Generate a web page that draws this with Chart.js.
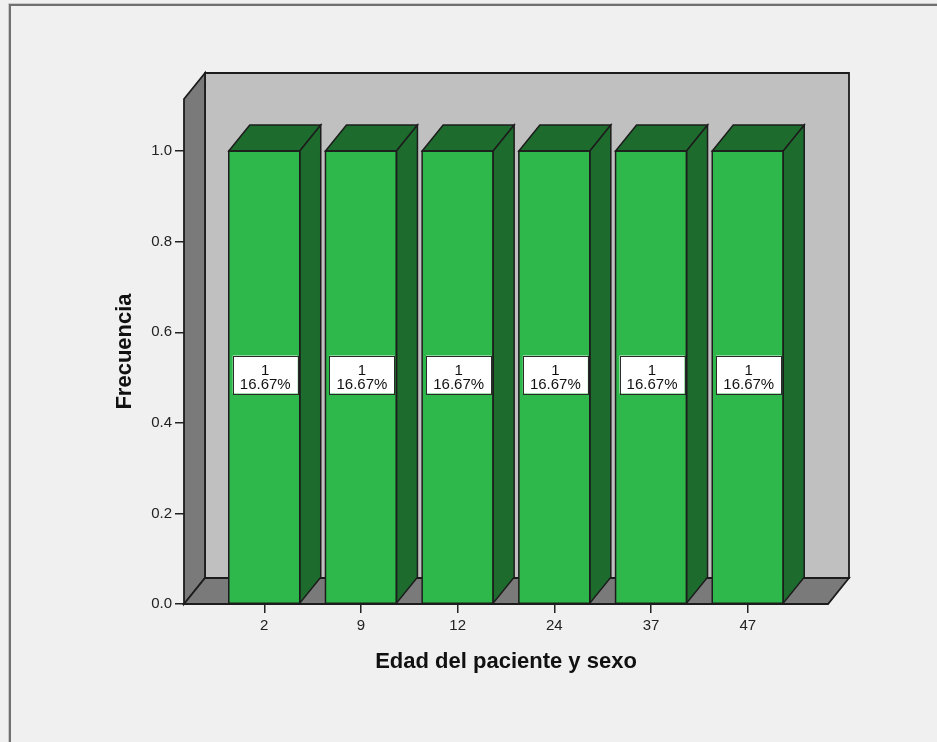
<!DOCTYPE html>
<html>
<head>
<meta charset="utf-8">
<script src="https://cdn.jsdelivr.net/npm/chart.js@4.4.0/dist/chart.umd.min.js"></script>
<style>
  html, body { margin: 0; padding: 0; background: #f0f0f0; }
  canvas { display: block; }
</style>
</head>
<body>
<canvas id="chart" width="937" height="742"></canvas>
<script>
// Frequency of each patient age
const categories = ['2', '9', '12', '24', '37', '47'];
const counts = [1, 1, 1, 1, 1, 1];
const yTickValues = [0, 0.2, 0.4, 0.6, 0.8, 1.0];
const xTitle = 'Edad del paciente y sexo';
const yTitle = 'Frecuencia';

const total = counts.reduce((a, b) => a + b, 0);

// 3D look: depth offset of back faces
const DEPTH_X = 21;
const DEPTH_Y = -26;
const FRONT = '#2eb84b';
const SHADE = '#1e6b2e';
const BACK_WALL = '#c0c0c0';
const SIDE_WALL = '#7a7a7a';
const EDGE = '#1c1c1c';

Chart.defaults.font.family = '"Liberation Sans", Arial, sans-serif';

function poly(ctx, pts, fill, stroke, lw) {
  ctx.beginPath();
  ctx.moveTo(pts[0][0], pts[0][1]);
  for (let i = 1; i < pts.length; i++) ctx.lineTo(pts[i][0], pts[i][1]);
  ctx.closePath();
  if (fill) { ctx.fillStyle = fill; ctx.fill(); }
  if (stroke) { ctx.strokeStyle = stroke; ctx.lineWidth = lw; ctx.lineJoin = 'miter'; ctx.stroke(); }
}

const box3d = {
  id: 'box3d',
  beforeDraw(chart) {
    const ctx = chart.ctx;
    ctx.save();
    ctx.fillStyle = '#f0f0f0';
    ctx.fillRect(0, 0, chart.width, chart.height);
    // window frame
    ctx.strokeStyle = '#c8c8c8';
    ctx.lineWidth = 1;
    ctx.beginPath();
    ctx.moveTo(8.5, 742); ctx.lineTo(8.5, 3.5); ctx.lineTo(937, 3.5);
    ctx.stroke();
    ctx.strokeStyle = '#707070';
    ctx.lineWidth = 2;
    ctx.beginPath();
    ctx.moveTo(10, 742); ctx.lineTo(10, 5); ctx.lineTo(937, 5);
    ctx.stroke();
    ctx.restore();
  },
  beforeDatasetsDraw(chart) {
    const ctx = chart.ctx;
    const a = chart.chartArea;
    const L = a.left, R = a.right, T = a.top, B = a.bottom;
    ctx.save();
    // back wall
    poly(ctx, [[L + DEPTH_X, T + DEPTH_Y], [R + DEPTH_X, T + DEPTH_Y], [R + DEPTH_X, B + DEPTH_Y], [L + DEPTH_X, B + DEPTH_Y]], BACK_WALL, EDGE, 1.8);
    // left wall
    poly(ctx, [[L, T], [L + DEPTH_X, T + DEPTH_Y], [L + DEPTH_X, B + DEPTH_Y], [L, B]], SIDE_WALL, EDGE, 1.8);
    // floor
    poly(ctx, [[L, B], [L + DEPTH_X, B + DEPTH_Y], [R + DEPTH_X, B + DEPTH_Y], [R, B]], SIDE_WALL, EDGE, 1.8);
    ctx.restore();
  },
  afterDatasetsDraw(chart) {
    const ctx = chart.ctx;
    const meta = chart.getDatasetMeta(0);
    const yScale = chart.scales.y;
    ctx.save();
    meta.data.forEach((bar) => {
      const p = bar.getProps(['x', 'y', 'base', 'width'], true);
      const l = p.x - p.width / 2, r = p.x + p.width / 2;
      // top face
      poly(ctx, [[l, p.y], [l + DEPTH_X, p.y + DEPTH_Y], [r + DEPTH_X, p.y + DEPTH_Y], [r, p.y]], SHADE, EDGE, 1.5);
      // side face
      poly(ctx, [[r, p.y], [r + DEPTH_X, p.y + DEPTH_Y], [r + DEPTH_X, p.base + DEPTH_Y], [r, p.base]], SHADE, EDGE, 1.5);
      // front outline
      ctx.strokeStyle = EDGE;
      ctx.lineWidth = 1.5;
      ctx.strokeRect(l, p.y, p.width, p.base - p.y);
    });
    // value labels
    ctx.font = '15px "Liberation Sans", Arial, sans-serif';
    ctx.textAlign = 'center';
    ctx.textBaseline = 'middle';
    meta.data.forEach((bar, i) => {
      const v = counts[i];
      const cx = bar.x;
      const mid = yScale.getPixelForValue(v / 2);
      const w = 65, top = mid - 22, h = 38;
      ctx.fillStyle = '#ffffff';
      ctx.fillRect(cx - w / 2 + 1, top, w, h);
      ctx.strokeStyle = '#2a2a2a';
      ctx.lineWidth = 1;
      ctx.strokeRect(Math.round(cx - w / 2 + 1) + 0.5, Math.round(top) + 0.5, w, h);
      ctx.fillStyle = '#111111';
      ctx.fillText(String(v), cx + 1, mid - 7);
      ctx.fillText((v / total * 100).toFixed(2) + '%', cx + 1, mid + 7);
    });
    ctx.restore();
  }
};

new Chart(document.getElementById('chart'), {
  type: 'bar',
  data: {
    datasets: [{
      data: counts.map((c, i) => ({ x: i, y: c })),
      backgroundColor: FRONT,
      borderColor: EDGE,
      borderWidth: 0,
      barPercentage: 0.734,
      categoryPercentage: 1
    }]
  },
  options: {
    responsive: false,
    animation: false,
    devicePixelRatio: 1,
    layout: { padding: { top: 99, right: 109, bottom: 0, left: 0 } },
    plugins: { legend: { display: false }, tooltip: { enabled: false } },
    scales: {
      x: {
        type: 'linear',
        offset: false,
        min: -0.83,
        max: 5.83,
        afterFit: (s) => { s.height = 138; },
        afterBuildTicks: (s) => { s.ticks = categories.map((_, i) => ({ value: i })); },
        ticks: {
          callback: (v) => categories[v],
          color: '#222',
          font: { size: 15 },
          padding: 4,
          autoSkip: false,
          maxRotation: 0
        },
        grid: { offset: false, drawOnChartArea: false, drawTicks: true, tickLength: 9, color: '#222', lineWidth: 1.5 },
        border: { display: false },
        title: {
          display: true,
          text: xTitle,
          color: '#111',
          font: { size: 22, weight: 'bold' },
          padding: { top: 0, bottom: 67 }
        }
      },
      y: {
        min: 0,
        max: 1.115,
        afterFit: (s) => { s.width = 184; },
        afterBuildTicks: (s) => { s.ticks = yTickValues.map((v) => ({ value: v })); },
        ticks: {
          callback: (v) => Number(v).toFixed(1),
          color: '#222',
          font: { size: 15 },
          padding: 3
        },
        grid: { drawOnChartArea: false, drawTicks: true, tickLength: 9, color: '#222', lineWidth: 1.5 },
        border: { display: false },
        title: {
          display: true,
          text: yTitle,
          color: '#111',
          font: { size: 22, weight: 'bold' },
          padding: { top: 112, bottom: 0 }
        }
      }
    }
  },
  plugins: [box3d]
});
</script>
</body>
</html>
